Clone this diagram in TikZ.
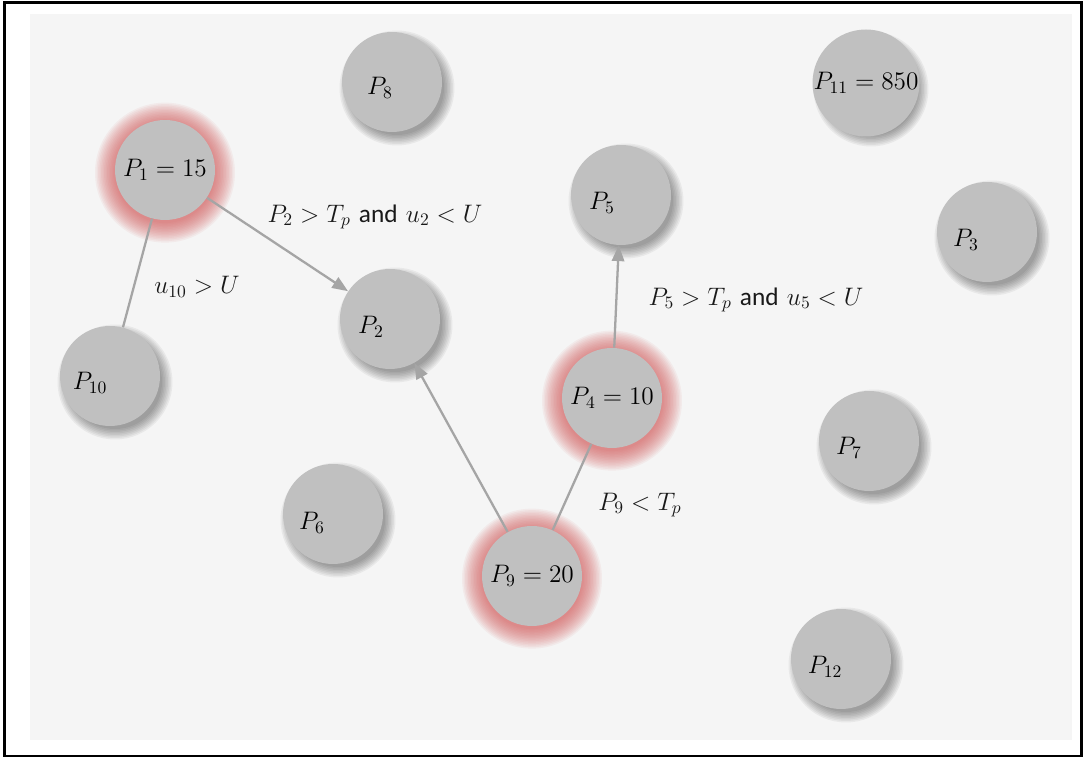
\documentclass[tikz,border=0pt]{standalone}
\usepackage{fontspec}
\newfontfamily\andfont{Carlito}
\usetikzlibrary{arrows.meta,backgrounds}

\begin{document}
\begin{tikzpicture}[x=0.02cm, y=-0.02cm, font=\fontsize{14}{16}\selectfont]
		% Colours picked from the figure
		\definecolor{panel}{RGB}{245,245,245}    % light grey panel
		\definecolor{ballgray}{RGB}{192,192,192} % discs
		\definecolor{glowred}{RGB}{210,80,80}    % halo of the peaks
		\definecolor{linkgray}{RGB}{165,165,165} % connectors
		\tikzset{
			ball/.style={circle, fill=ballgray, minimum size=2cm, inner sep=0pt},
			link/.style={draw=linkgray, line width=1.3pt},
			arrowlink/.style={link, -{Triangle[length=9pt, width=7pt]}},
			cond/.style={text=black!90, font=\Large}
		}
		\useasboundingbox (0,0) rectangle (1086,759);
		
		% --- Peaks (with halo) ---
		\node[ball] (p1) at (165,170) {$P_1 = 15$};
		\node[ball] (p4) at (612,398) {$P_4 = 10$};
		\node[ball] (p9) at (532,576) {$P_9 = 20$};
		
		% --- Other points ---
		\node[ball] (p11) at (866,83) {$P_{11} = 850$};
		\node[ball, label={[shift={(-12,6)}]center:$P_8$}] (p8) at (392,82) {};
		\node[ball, label={[shift={(-19,8)}]center:$P_5$}] (p5) at (621,195) {};
		\node[ball, label={[shift={(-21,8)}]center:$P_3$}] (p3) at (987,232) {};
		\node[ball, label={[shift={(-19,8)}]center:$P_2$}] (p2) at (390,319) {};
		\node[ball, label={[shift={(-20,7)}]center:$P_{10}$}] (p10) at (110,376) {};
		\node[ball, label={[shift={(-20,7)}]center:$P_7$}] (p7) at (869,441) {};
		\node[ball, label={[shift={(-21,9)}]center:$P_6$}] (p6) at (333,514) {};
		\node[ball, label={[shift={(-16,8)}]center:$P_{12}$}] (p12) at (841,659) {};
		
		% --- Connectors ---
		\draw[link] (p1) -- (p10);
		\draw[arrowlink] (p1) -- (p2);
		\draw[arrowlink] (p9) -- (p2);
		\draw[link] (p9) -- (p4);
		\draw[arrowlink] (p4) -- (p5);
		
		% --- Conditions ---
		\node[cond] (c2) at (375,217) {$P_2 > T_p$ {\andfont and} $u_2 < U$};
		\node[cond] (c10) at (197,287) {$u_{10} > U$};
		\node[cond] (c5) at (756,300) {$P_5 > T_p$ {\andfont and} $u_5 < U$};
		\node[cond] (c9) at (640,505) {$P_9 < T_p$};
		
		% --- Panel, shadows and halos ---
		\begin{scope}[on background layer]
			\fill[panel] (30,14) rectangle (1072,740);
			\foreach \n in {p11,p8,p5,p3,p2,p10,p7,p6,p12}{
				\foreach \k in {0,...,7}
					\fill[black, opacity=0.05] ([shift={(5,6)}]\n.center) circle ({0.94cm+\k*0.03cm});
			}
			\foreach \n in {p1,p4,p9}{
				\foreach \k in {1,...,14}
					\fill[glowred, opacity=0.065] ([yshift=-1.5pt]\n.center) circle ({0.98cm+\k*0.03cm});
			}
		\end{scope}
		
		% Frame
		\draw[line width=1.5pt] (4.5,2.5) rectangle (1081.5,756);
		
	\end{tikzpicture}
\end{document}
